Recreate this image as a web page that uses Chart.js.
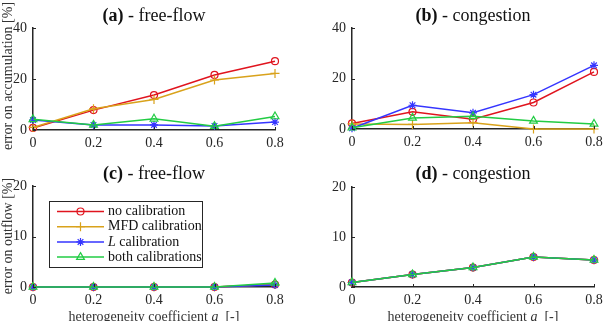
<!DOCTYPE html>
<html>
<head>
<meta charset="utf-8">
<script src="https://cdn.jsdelivr.net/npm/chart.js@4"></script>
<style>
  html, body { margin: 0; padding: 0; background: #fff; overflow: hidden; }
  #wrap { position: relative; width: 603px; height: 321px; overflow: hidden; background: #fff;
          font-family: 'Liberation Serif', 'DejaVu Serif', serif; color: #222; }
  #wrap canvas { position: absolute; }
  .title { position: absolute; font-size: 18px; white-space: nowrap; transform: translate(-50%, -50%); color: #111; }
  .ylab { position: absolute; font-size: 14px; white-space: nowrap; transform: translate(-50%, -50%) rotate(-90deg); color: #333; }
  .xlab { position: absolute; font-size: 14px; white-space: nowrap; transform: translate(-50%, -50%); color: #333; }
</style>
</head>
<body>
<div id="wrap">
  <canvas id="cA" width="300" height="160" style="left:0;top:0"></canvas>
  <canvas id="cB" width="295" height="160" style="left:318px;top:0"></canvas>
  <canvas id="cC" width="300" height="161" style="left:0;top:160px"></canvas>
  <canvas id="cD" width="295" height="161" style="left:318px;top:160px"></canvas>

  <div class="title" style="left:154px;top:15px"><b>(a)</b> - free-flow</div>
  <div class="title" style="left:473px;top:15px"><b>(b)</b> - congestion</div>
  <div class="title" style="left:154px;top:173px"><b>(c)</b> - free-flow</div>
  <div class="title" style="left:473px;top:173px"><b>(d)</b> - congestion</div>

  <div class="ylab" style="left:8px;top:76px">error on accumulation [%]</div>
  <div class="ylab" style="left:8px;top:236px">error on outflow [%]</div>

  <div class="xlab" style="left:154px;top:318px">heterogeneity coefficient <i>a</i><sub style="font-size:9px"><i>r</i></sub> [-]</div>
  <div class="xlab" style="left:473px;top:318px">heterogeneity coefficient <i>a</i><sub style="font-size:9px"><i>r</i></sub> [-]</div>
</div>

<script>
// abscisses + noms des séries
const xLabels = ['0', '0.2', '0.4', '0.6', '0.8'];
const seriesNames = ['no calibration', 'MFD calibration', 'L calibration', 'both calibrations'];

// (a) accumulation - free-flow
const accFreeNoCal = [0.8, 7.8, 13.7, 21.6, 27];
const accFreeMfd   = [1, 8.3, 12, 19.6, 22.2];
const accFreeL     = [3.9, 2, 2, 1.6, 3.1];
const accFreeBoth  = [4.2, 2, 4.4, 1.5, 5.3];

// (b) accumulation - congestion
const accCongNoCal = [2.2, 6.8, 3.9, 10.5, 22.6];
const accCongMfd   = [2, 1.8, 2.5, 0, 0];
const accCongL     = [0.3, 9.4, 6.4, 13.6, 25.2];
const accCongBoth  = [0.5, 4.4, 5, 3.2, 2];

// (c) outflow - free-flow
const outFreeNoCal = [0, 0, 0, 0, 0.5];
const outFreeMfd   = [0, 0, 0, 0, 0.5];
const outFreeL     = [0, 0, 0, 0, 0.4];
const outFreeBoth  = [0, 0, 0, 0, 0.8];

// (d) outflow - congestion
const outCongNoCal = [0.9, 2.5, 3.9, 6, 5.4];
const outCongMfd   = [0.9, 2.5, 3.9, 6, 5.4];
const outCongL     = [0.9, 2.5, 3.9, 6, 5.4];
const outCongBoth  = [0.9, 2.5, 3.9, 6, 5.4];

const colors = ['#e0141e', '#d9a21b', '#3535ff', '#22cc44'];
const markers = ['circle', 'cross', 'star', 'triangle'];
const radii = [3.5, 4.5, 4, 4.5];

Chart.defaults.font.family = "'Liberation Serif', 'DejaVu Serif', serif";
Chart.defaults.font.size = 14;
Chart.defaults.color = '#262626';

function makeSets(series) {
  return series.map((vals, i) => ({
    label: seriesNames[i],
    data: vals,
    borderColor: colors[i],
    backgroundColor: 'transparent',
    pointBorderColor: colors[i],
    pointBackgroundColor: 'transparent',
    pointStyle: markers[i],
    pointRadius: radii[i],
    pointBorderWidth: 1.2,
    borderWidth: 1.5,
    tension: 0,
    clip: false,
    order: series.length - i
  }));
}

// petits traits de graduation vers l'intérieur, façon MATLAB
const inTicks = {
  id: 'inTicks',
  afterDraw(chart) {
    const { ctx, chartArea: a, scales: { x, y } } = chart;
    ctx.save();
    ctx.strokeStyle = '#262626';
    ctx.lineWidth = 1;
    x.ticks.forEach((t, i) => {
      const px = Math.round(x.getPixelForTick(i)) + 0.5;
      ctx.beginPath(); ctx.moveTo(px, a.bottom); ctx.lineTo(px, a.bottom - 3); ctx.stroke();
    });
    y.ticks.forEach((t, i) => {
      const py = Math.round(y.getPixelForTick(i)) + 0.5;
      ctx.beginPath(); ctx.moveTo(a.left, py); ctx.lineTo(a.left + 3, py); ctx.stroke();
    });
    ctx.restore();
  }
};

// légende encadrée dans le panneau (c)
const boxLegend = {
  id: 'boxLegend',
  afterDraw(chart) {
    const ctx = chart.ctx;
    const left = 49, top = 41, w = 153, h = 66;
    ctx.save();
    ctx.fillStyle = '#fff';
    ctx.fillRect(left, top, w, h);
    ctx.strokeStyle = '#262626';
    ctx.lineWidth = 1;
    ctx.strokeRect(left + 0.5, top + 0.5, w, h);
    seriesNames.forEach((name, i) => {
      const yy = top + 10.5 + i * 15.2;
      ctx.strokeStyle = colors[i];
      ctx.lineWidth = 1.5;
      ctx.beginPath(); ctx.moveTo(57, yy); ctx.lineTo(104, yy); ctx.stroke();
      ctx.fillStyle = 'transparent';
      ctx.lineWidth = 1.2;
      Chart.helpers.drawPoint(ctx, { pointStyle: markers[i], radius: radii[i], rotation: 0, borderWidth: 1.2 }, 80.5, yy);
      ctx.fillStyle = '#111';
      ctx.textBaseline = 'middle';
      let tx = 108;
      if (name.startsWith('L ')) {
        ctx.font = "italic 14px 'Liberation Serif', serif";
        ctx.fillText('L', tx, yy);
        tx += ctx.measureText('L').width;
        name = name.slice(1);
      }
      ctx.font = "14px 'Liberation Serif', serif";
      ctx.fillText(name, tx, yy);
    });
    ctx.restore();
  }
};

function makeChart(id, series, yMax, yStep, pad, yWidth, xHeight, extra) {
  return new Chart(document.getElementById(id), {
    type: 'line',
    data: { labels: xLabels, datasets: makeSets(series) },
    options: {
      responsive: false,
      animation: false,
      layout: { padding: pad },
      plugins: { legend: { display: false }, tooltip: { enabled: false } },
      scales: {
        x: {
          grid: { display: false, drawTicks: false },
          border: { color: '#262626', width: 1.5 },
          ticks: { padding: 5, maxRotation: 0, autoSkip: false },
          afterFit: s => { s.height = xHeight; s.paddingLeft = 0; s.paddingRight = 0; }
        },
        y: {
          min: 0, max: yMax,
          grid: { display: false, drawTicks: false },
          border: { color: '#262626', width: 1.5 },
          ticks: { stepSize: yStep, padding: 6 },
          afterFit: s => { s.width = yWidth; }
        }
      }
    },
    plugins: [inTicks].concat(extra || [])
  });
}

makeChart('cA', [accFreeNoCal, accFreeMfd, accFreeL, accFreeBoth], 40, 20,
  { top: 28, right: 25, left: 0, bottom: 0 }, 33, 30);
makeChart('cB', [accCongNoCal, accCongMfd, accCongL, accCongBoth], 40, 20,
  { top: 28, right: 19, left: 0, bottom: 0 }, 34, 31);
makeChart('cC', [outFreeNoCal, outFreeMfd, outFreeL, outFreeBoth], 20, 10,
  { top: 26, right: 25, left: 0, bottom: 0 }, 33, 34, [boxLegend]);
makeChart('cD', [outCongNoCal, outCongMfd, outCongL, outCongBoth], 20, 10,
  { top: 27, right: 19, left: 0, bottom: 0 }, 34, 34);
</script>
</body>
</html>
